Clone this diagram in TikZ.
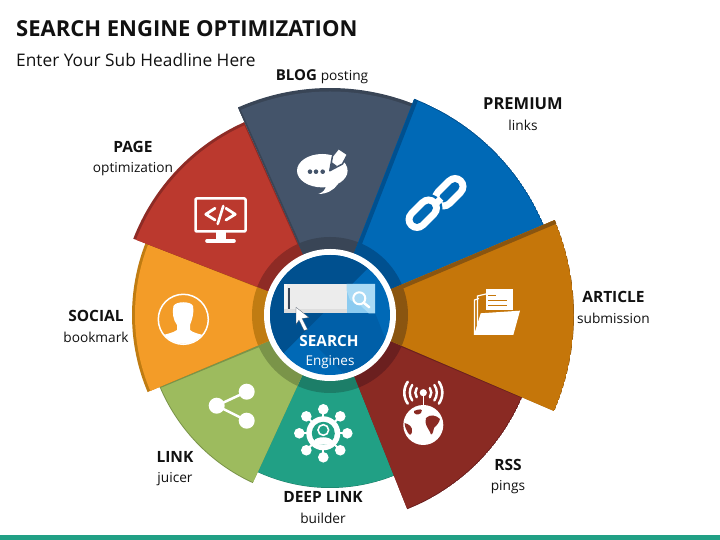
\documentclass[tikz,border=0pt]{standalone}
\usepackage{xcolor}
\usepackage{fontspec}
\usepackage{tikz}
\usetikzlibrary{positioning, calc}
\setmainfont{Open Sans}
\definecolor{seoslate}{HTML}{44546A}
\definecolor{seoslatedark}{HTML}{394556}
\definecolor{seoblue}{HTML}{0069B6}
\definecolor{seobluemid}{HTML}{005FA8}
\definecolor{seobluedark}{HTML}{00508F}
\definecolor{seosky}{HTML}{A9DAF5}
\definecolor{seoskydark}{HTML}{8CCBF0}
\definecolor{seoochre}{HTML}{C5760A}
\definecolor{seoochredark}{HTML}{8A5510}
\definecolor{seorust}{HTML}{8A2A23}
\definecolor{seorustdark}{HTML}{6B1F1F}
\definecolor{seoteal}{HTML}{21A085}
\definecolor{seotealdark}{HTML}{1C7E68}
\definecolor{seoolive}{HTML}{9DBB5E}
\definecolor{seoolivedark}{HTML}{7A9449}
\definecolor{seoamber}{HTML}{F39C28}
\definecolor{seoamberdark}{HTML}{C07C12}
\definecolor{seored}{HTML}{BB392E}
\definecolor{seoreddark}{HTML}{8E2B25}
\definecolor{seoink}{HTML}{111111}
% from, to, radius, fill, dark, rim width, edge angle, edge width
\newcommand{\sectorseg}[8]{
  \begin{scope}[shift={(330,225)}]
    \clip (0,0) -- (#1:#3) arc[start angle=#1, end angle=#2, radius=#3] -- cycle;
    \fill[#5] (0,0) circle[radius=#3];
    \fill[#4] (0,0) circle[radius=#3-#6];
    \fill[#5] (0,0) circle[radius=78];
    \draw[#5, line width=2*#8] (0,0) -- (#7:300);
  \end{scope}
}
\newcommand{\lblhead}{\fontsize{15.5}{20.5}\selectfont}
\begin{document}
\begin{tikzpicture}[
  x=1pt, y=1pt,
  headline/.style={anchor=west, inner sep=0pt, text=seoink},
  lbl/.style={align=center, inner sep=0pt, text=seoink, font=\fontsize{13.7}{20.5}\selectfont},
  icn/.style={white, line width=2.5pt, line cap=round, line join=round}
]
\useasboundingbox (0,0) rectangle (720,540);
\fill[white] (0,0) rectangle (720,540);
\fill[seoteal] (0,0) rectangle (720,5);

\node[headline, font=\fontsize{22}{26}\selectfont\bfseries] (title) at (16,511) {SEARCH ENGINE OPTIMIZATION};
\node[headline, font=\fontsize{17.3}{20}\selectfont] (subtitle) at (16,480) {Enter Your Sub Headline Here};

% ring of segments, lowest first
\sectorseg{-115.5}{-67}{173}{seoteal}{seotealdark}{0.5}{-67}{1}
\sectorseg{202.5}{245.3}{185}{seoolive}{seoolivedark}{1}{202.5}{2.5}
\sectorseg{158.5}{202.9}{198}{seoamber}{seoamberdark}{3}{158.5}{1}
\sectorseg{114}{158.8}{211}{seored}{seoreddark}{3}{114}{1}
\sectorseg{68}{113.9}{227}{seoslate}{seoslatedark}{3.5}{113.9}{1.5}
\sectorseg{22.9}{68.7}{232}{seoblue}{seobluedark}{1}{68.7}{4}
\sectorseg{-68.3}{-23}{209}{seorust}{seorustdark}{1}{-23}{1.5}
\sectorseg{-23.2}{22.9}{244}{seoochre}{seoochredark}{0.5}{22.9}{4}

% hub
\fill[white] (330,225) circle[radius=66];
\begin{scope}
  \clip (330,225) circle[radius=60];
  \fill[seoblue] (270,165) rectangle (390,285);
  \fill[seobluemid] (283.5,227) -- (345,165) -- (400,165) -- (375,227) -- cycle;
  \fill[seobluedark] (265,290) -- (350,290) -- (368,272) -- (276.7,180) -- (265,180) -- cycle;
\end{scope}

% search box
\fill[gray!15] (283.5,226.5) rectangle (346.5,256);
\fill[gray!27] (283.5,226.5) rectangle (346.5,231);
\fill[gray!8] (283.5,231) rectangle (287,256);
\fill[seoskydark] (346.5,226.5) rectangle (375,256);
\fill[seosky] (346.5,256) -- (375,256) -- (375,226.5) -- (369,226.5) -- (360,235) -- (350,240) -- (346.5,250) -- cycle;
\fill[seoslatedark] (287.5,231) rectangle (290,252);
\draw[white, line width=2pt] (359.3,241.7) circle[radius=6];
\draw[white, line width=2.5pt, line cap=round] (363.8,237.2) -- (369.3,232.7);
\fill[white, draw=seoslatedark, line width=0.2pt] (296,232.7) -- (309,222.5) -- (302,221.5) -- (307.5,210.5) -- (304,209.5) -- (299,220) -- (296,215.5) -- cycle;
\node[font=\fontsize{15.3}{16}\selectfont\bfseries, text=white, inner sep=0pt] (hubhead) at (329,198.5) {SEARCH};
\node[font=\fontsize{13.5}{16}\selectfont, text=white, inner sep=0pt] (hubsub) at (330,177.5) {Engines};

% monitor
\draw[icn, rounded corners=1pt] (195.5,341.5) rectangle (245.5,308.5);
\fill[white] (215.7,307.5) rectangle (226,301);
\draw[white, line width=3.6pt, line cap=round] (207,299) -- (234,299);
\draw[icn, line width=2.8pt] (215,331.7) -- (205.8,325.7) -- (215,320);
\draw[icn, line width=2.8pt] (226,331.7) -- (235.2,325.7) -- (226,320);
\draw[icn, line width=2.6pt] (223.3,334) -- (217.7,316);

% speech bubble and pencil
\fill[white] (322.3,369.3) ellipse[x radius=25.3, y radius=16.7];
\fill[white] (326,355) .. controls (326,350) and (322,347) .. (318.3,346) .. controls (327,346) and (334,350) .. (338,356) -- cycle;
\foreach \dotx in {310,316,322.7}
  \fill[seoslate] (\dotx,368.3) circle[radius=2.3];
\draw[fill=white, line width=1.5pt, line join=round, draw=seoslate] (329.8,369.3) -- (332.5,384) -- (338.5,391.5) -- (347.5,385.5) -- (342.5,376) -- cycle;
\fill[seoslate] (329.8,369.3) -- (331.5,378) -- (337,374) -- cycle;

% chain
\draw[white, line width=23pt, line cap=round] (443.5,342) -- (455,353.5);
\draw[seoblue, line width=9pt, line cap=round] (443.5,342) -- (455,353.5);
\draw[seoblue, line width=28pt, line cap=round] (417,320.5) -- (428.5,332);
\draw[white, line width=23pt, line cap=round] (417,320.5) -- (428.5,332);
\draw[seoblue, line width=9pt, line cap=round] (417,320.5) -- (428.5,332);
\draw[white, line width=6.5pt] (434,334.5) -- (441,341.5);

% folder
\draw[white, line width=1.2pt] (474.5,205) -- (474.5,240) -- (479,241.5);
\draw[white, line width=1.2pt] (477.5,215) -- (477.5,244) -- (486,246);
\fill[white] (486,230) rectangle (512.7,250.7);
\fill[seoochre] (487.5,243.7) rectangle (496,245.2);
\fill[seoochre] (487.5,238.7) rectangle (506.7,240.2);
\fill[seoochre] (487.5,233.7) rectangle (506.7,235.2);
\fill[seoochre] (479,205) -- (479,228) -- (514,228) -- (514,232) -- (521,231) -- (514,205) -- cycle;
\fill[white] (480.7,226.7) -- (520,229.3) -- (513.3,205) -- (474,205) -- cycle;

% globe with mast
\fill[white] (423.3,115) circle[radius=20];
\draw[white, line width=1.6pt] (423.3,147.3) -- (423.3,133);
\fill[white] (423.3,147.3) circle[radius=3.6];
\foreach \rad/\wd in {8/2.4, 13.5/2.4, 19/2.6} {
  \draw[white, line width=\wd pt, line cap=round] ($(423.3,147.3)+(145:\rad)$) arc[start angle=145, end angle=215, radius=\rad];
  \draw[white, line width=\wd pt, line cap=round] ($(423.3,147.3)+(-35:\rad)$) arc[start angle=-35, end angle=35, radius=\rad];
}
\fill[seorust] (414,129) .. controls (419,131) and (424,132) .. (421,127) .. controls (418,124) and (413,126) .. cycle;
\fill[seorust] (426,122) .. controls (430,126) and (436,125) .. (440,121) .. controls (439,117) and (437,115) .. (434,112) .. controls (433,106) and (431,103) .. (430,108) .. controls (428,112) and (424,116) .. cycle;
\fill[seorust] (404.5,117) .. controls (409,116) and (413,113) .. (412,108) .. controls (411,104) and (409,105) .. (408,107) .. controls (406,110) and (405,113) .. cycle;

% network with person
\foreach \ang in {0,45,...,315} {
  \draw[white, line width=2pt] (323.3,106.7) -- +(\ang:24);
  \fill[white] (323.3,106.7) ++(\ang:24) circle[radius=5.3];
}
\fill[white] (323.3,106.7) circle[radius=17];
\fill[seoteal] (323.3,106.7) circle[radius=11.5];
\draw[white, line width=1.6pt] (323.3,110) circle[radius=5.3];
\fill[white] (314,99) .. controls (316,104) and (330,104) .. (332.6,99) .. controls (330,94) and (316,94) .. cycle;

% share
\draw[white, line width=2.5pt] (246.7,148.3) -- (216.7,134.3) -- (246.7,119.3);
\foreach \px/\py in {216.7/134.3, 246.7/148.3, 246.7/119.3}
  \fill[white] (\px,\py) circle[radius=8];

% person in circle
\draw[white, line width=1.5pt] (183.3,220.7) circle[radius=25];
\begin{scope}
  \clip (183.3,220.7) circle[radius=24.5];
  \fill[white] (173.5,234) .. controls (176,239) and (191,239) .. (193,234)
    .. controls (194.5,228) and (192,220) .. (190,215) -- (190,210)
    .. controls (193,207) and (200,206) .. (206,204) -- (206,190) -- (160,190) -- (160,204)
    .. controls (166,206) and (173,207) .. (177,210) -- (177,215)
    .. controls (173,220) and (172,228) .. cycle;
\end{scope}

% labels
\node[lbl] (bloglbl) at (322,463) {\fontsize{15}{16}\selectfont\textbf{BLOG}\ \fontsize{13.7}{16}\selectfont posting};
\node[lbl] (premiumlbl) at (523,426) {\fontsize{16.5}{20.5}\selectfont\textbf{PREMIUM}\\links};
\node[lbl] (pagelbl) at (133,381.5) {\lblhead\textbf{PAGE}\\optimization};
\node[lbl] (articlelbl) at (613.5,232.5) {\lblhead\textbf{ARTICLE}\\submission};
\node[lbl] (sociallbl) at (96,213.5) {\lblhead\textbf{SOCIAL}\\bookmark};
\node[lbl] (rsslbl) at (508,63.5) {\lblhead\textbf{RSS}\\pings};
\node[lbl] (linklbl) at (175,71.5) {\lblhead\textbf{LINK}\\juicer};
\node[lbl] (deeplbl) at (323,32.5) {\lblhead\textbf{DEEP LINK}\\builder};
\end{tikzpicture}
\end{document}
